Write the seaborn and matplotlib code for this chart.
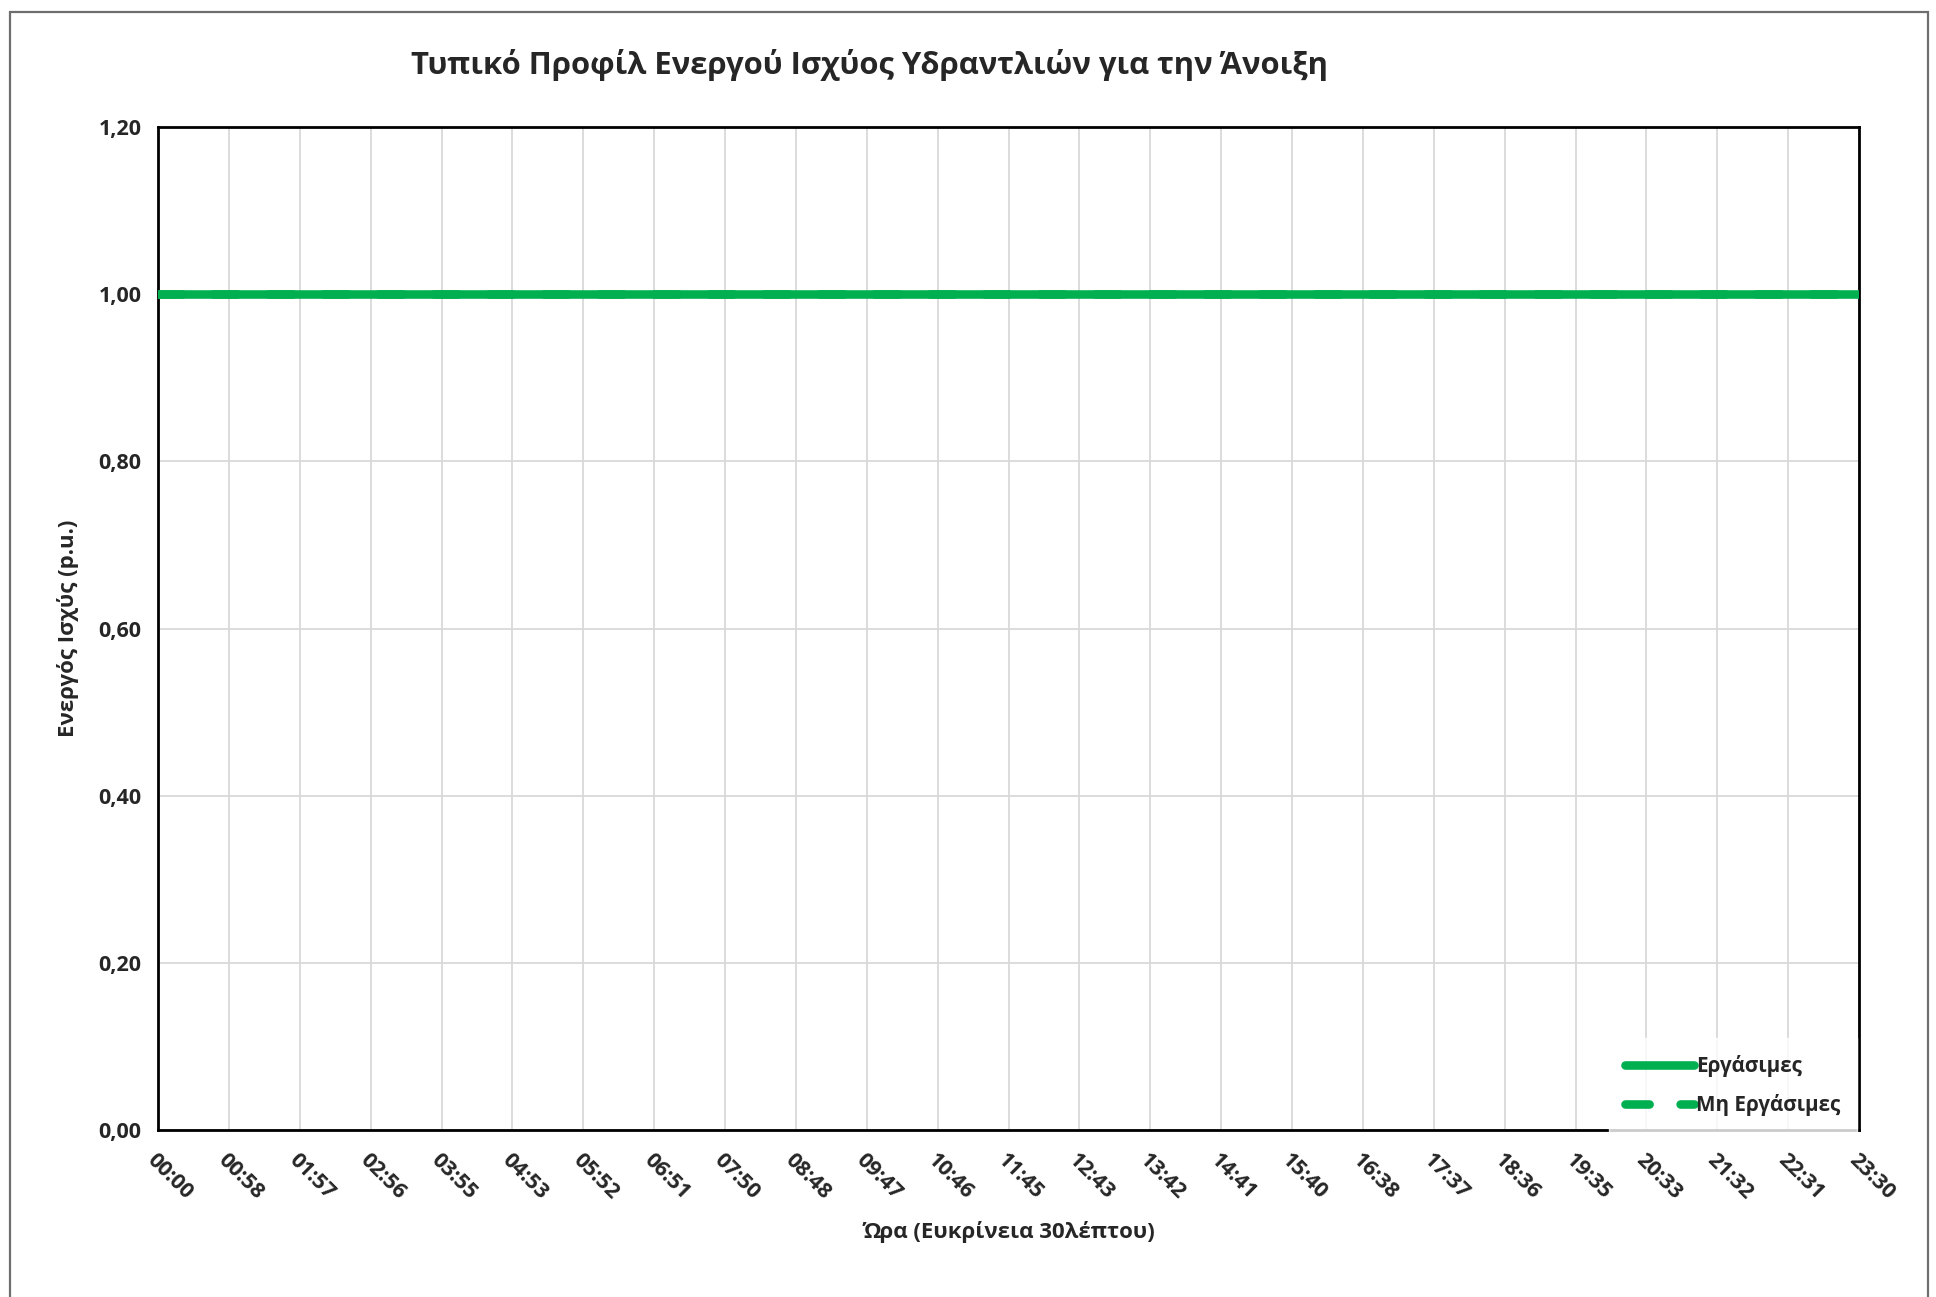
import numpy as np
import pandas as pd
import matplotlib
matplotlib.use("Agg")
import matplotlib.pyplot as plt
import matplotlib.ticker as mticker
from matplotlib.patches import Rectangle
import seaborn as sns

# --- data: 30-minute resolution, minutes after midnight ---
minutes = list(range(0, 1440, 30))
working_days = [1.0, 1.0, 1.0, 1.0, 1.0, 1.0, 1.0, 1.0, 1.0, 1.0, 1.0, 1.0,
                1.0, 1.0, 1.0, 1.0, 1.0, 1.0, 1.0, 1.0, 1.0, 1.0, 1.0, 1.0,
                1.0, 1.0, 1.0, 1.0, 1.0, 1.0, 1.0, 1.0, 1.0, 1.0, 1.0, 1.0,
                1.0, 1.0, 1.0, 1.0, 1.0, 1.0, 1.0, 1.0, 1.0, 1.0, 1.0, 1.0]
non_working_days = [1.0, 1.0, 1.0, 1.0, 1.0, 1.0, 1.0, 1.0, 1.0, 1.0, 1.0, 1.0,
                    1.0, 1.0, 1.0, 1.0, 1.0, 1.0, 1.0, 1.0, 1.0, 1.0, 1.0, 1.0,
                    1.0, 1.0, 1.0, 1.0, 1.0, 1.0, 1.0, 1.0, 1.0, 1.0, 1.0, 1.0,
                    1.0, 1.0, 1.0, 1.0, 1.0, 1.0, 1.0, 1.0, 1.0, 1.0, 1.0, 1.0]
tick_labels = ["00:00", "00:58", "01:57", "02:56", "03:55", "04:53", "05:52",
               "06:51", "07:50", "08:48", "09:47", "10:46", "11:45", "12:43",
               "13:42", "14:41", "15:40", "16:38", "17:37", "18:36", "19:35",
               "20:33", "21:32", "22:31", "23:30"]
series_names = ["Εργάσιμες", "Μη Εργάσιμες"]

df = pd.DataFrame({"minute": minutes, series_names[0]: working_days,
                   series_names[1]: non_working_days})

# --- style ---
sns.set_style("white")
plt.rcParams['font.family'] = ['Open Sans', 'DejaVu Sans']
plt.rcParams['font.weight'] = 'bold'
green = "#00B050"
grid_gray = "#D9D9D9"

fig = plt.figure(figsize=(19.36, 12.97), dpi=100)
ax = fig.add_axes([0.0816, 0.1288, 0.8787, 0.7731])

# outer chart frame
fig.patches.append(Rectangle((0.005, -0.02), 0.991, 1.011, transform=fig.transFigure,
                             fill=False, edgecolor="#6E6E6E", linewidth=1.6))

sns.lineplot(data=df, x="minute", y=series_names[1], ax=ax, color=green,
             linewidth=6.2, label=series_names[1], zorder=3)
ax.lines[-1].set_dashes((2.8, 3.6))
ax.lines[-1].set_dash_capstyle('round')
sns.lineplot(data=df, x="minute", y=series_names[0], ax=ax, color=green,
             linewidth=6.2, label=series_names[0], zorder=4)
ax.lines[-1].set_solid_capstyle('round')

# axes
ax.set_xlim(minutes[0], minutes[-1])
ax.set_ylim(0, 1.2)
ax.set_xticks(np.linspace(minutes[0], minutes[-1], len(tick_labels)))
ax.set_xticklabels(tick_labels, rotation=-45, ha='left', va='top',
                   rotation_mode='anchor', fontsize=15.5, fontweight='bold')
ax.set_yticks(np.arange(0, 1.21, 0.2))
ax.yaxis.set_major_formatter(mticker.FuncFormatter(lambda v, p: f"{v:.2f}".replace(".", ",")))
for lbl in ax.get_yticklabels():
    lbl.set_fontsize(15.5)
    lbl.set_fontweight('bold')
ax.tick_params(axis='y', length=0, pad=12)
ax.tick_params(axis='x', length=0, pad=14)
ax.grid(True, color=grid_gray, linewidth=1.3)
ax.set_axisbelow(True)
for s in ax.spines.values():
    s.set_color("black")
    s.set_linewidth(2)

ax.set_xlabel("Ώρα (Ευκρίνεια 30λέπτου)", fontsize=16, fontweight='bold', labelpad=13)
ax.set_ylabel("Ενεργός Ισχύς (p.u.)", fontsize=16, fontweight='bold', labelpad=14)
fig.text(0.449, 0.950, "Τυπικό Προφίλ Ενεργού Ισχύος Υδραντλιών για την Άνοιξη",
         ha='center', va='center', fontsize=22.3, fontweight='bold')

# legend, bottom right, white box over the grid
handles, labels = ax.get_legend_handles_labels()
order = [labels.index(n) for n in series_names]
leg = ax.legend([handles[i] for i in order], [labels[i] for i in order],
                loc='lower right', bbox_to_anchor=(0.9985, -0.003), frameon=True,
                fancybox=False, facecolor='white', edgecolor='white',
                fontsize=14.9, handlelength=3.3, handletextpad=0.1,
                labelspacing=0.85, borderpad=0.8, borderaxespad=0.0)
for t in leg.get_texts():
    t.set_fontweight('bold')
leg.set_zorder(10)

fig.savefig("out.png", dpi=100)
